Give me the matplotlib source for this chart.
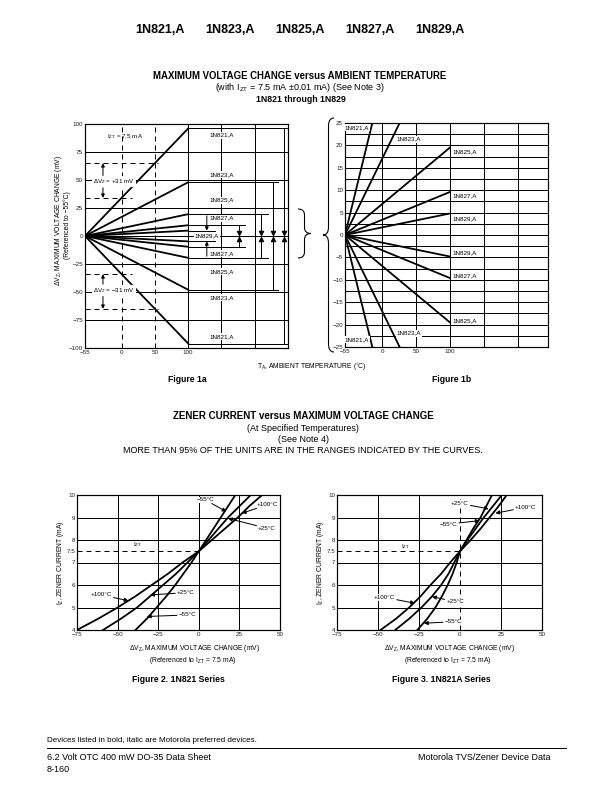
import matplotlib
matplotlib.use("Agg")
import matplotlib.pyplot as plt
from matplotlib.path import Path
from matplotlib.patches import PathPatch

plt.rcParams['font.family'] = ['Liberation Sans', 'DejaVu Sans']
plt.rcParams['mathtext.fontset'] = 'custom'
plt.rcParams['mathtext.rm'] = 'Liberation Sans'
plt.rcParams['mathtext.it'] = 'Liberation Sans'
plt.rcParams['mathtext.bf'] = 'Liberation Sans:bold'
plt.rcParams['axes.linewidth'] = 1.2

W, H = 612, 792

# === Figure 1: voltage change vs ambient temperature ===
devices = ['1N821,A', '1N823,A', '1N825,A', '1N827,A', '1N829,A']
dv_at_100 = [96, 48, 19.5, 9.6, 4.8]      # mV at +100 C, referenced to -55 C
temp_span = [-55, 100]
fig1_xticks = [-55, 0, 50, 100]
fig1a_yticks = [-100, -75, -50, -25, 0, 25, 50, 75, 100]
fig1b_yticks = [-25, -20, -15, -10, -5, 0, 5, 10, 15, 20, 25]

# right-hand markers of figure 1a: end of the level lines, x of the span bar
level_end = [250, 235, 220, 186, 140]
span_x = [244.5, 228, 210, 176]
label_y_1a = [90, 55, 32, 16]

# === Figures 2 and 3: zener current vs voltage change ===
iz = [4, 4.5, 5, 5.5, 6, 6.5, 7, 7.5, 8, 8.5, 9, 9.5, 10]
fig2_dv = {
    '+100': [-75, -62, -50, -39, -29, -19, -10, 0, 8, 16, 24, 31, 39],
    '+25': [-59, -48, -38, -30, -22, -14, -7, 0, 6, 12, 18, 25, 32],
    '-55': [-39, -32, -26, -20, -14.5, -9.5, -4.5, 0, 4.5, 9, 13.5, 18, 22.5],
}
fig3_dv = {
    '+100': [-48.5, -39, -31, -24, -18, -11.5, -6, 0, 6.5, 12.5, 18, 23.5, 28.5],
    '+25': [-39.5, -31, -23.5, -17, -11.5, -7, -3.5, 0, 4, 8, 12.5, 16, 19.5],
    '-55': [-26, -20, -15, -11, -7.5, -4.5, -2, 0, 4.5, 9.5, 14.5, 20, 25.5],
}
iz_ticks = [4, 5, 6, 7, 7.5, 8, 9, 10]
iz_ticklabels = ['4', '5', '6', '7', '7.5', '8', '9', '10']
dv_ticks = [-75, -50, -25, 0, 25, 50]

# (label, text xy, arrow tip xy)
fig2_notes = [
    ('\u221255\u00b0C', (4, 9.78), (17, 9.26)),
    ('+100\u00b0C', (42, 9.56), (26.5, 9.19)),
    ('+25\u00b0C', (42, 8.52), (18, 8.96)),
    ('+100\u00b0C', (-60, 5.56), (-43.3, 5.3)),
    ('+25\u00b0C', (-8, 5.66), (-30, 5.56)),
    ('\u221255\u00b0C', (-7, 4.67), (-32, 4.6)),
]
fig3_notes = [
    ('+25\u00b0C', (0, 9.63), (17.5, 9.38)),
    ('+100\u00b0C', (40, 9.45), (21.6, 9.19)),
    ('\u221255\u00b0C', (-7, 8.71), (12, 8.86)),
    ('+100\u00b0C', (-46, 5.45), (-27.5, 5.19)),
    ('+25\u00b0C', (-3, 5.26), (-17, 5.48)),
    ('\u221255\u00b0C', (-4, 4.37), (-22, 4.3)),
]

FS_IN = 6.3     # labels inside the plots
FS_TICK = 6.3
FS_AX = 6.8


def box(px_left, px_top, px_w, px_h):
    return [px_left / W, 1 - (px_top + px_h) / H, px_w / W, px_h / H]


def ftext(px, py, s, **kw):
    fig.text(px / W, 1 - py / H, s, **kw)


def brace(x_end, x_tip, y_top, y_bot, r):
    """Curly brace in page pixels, tip pointing towards x_tip."""
    xm = (x_end + x_tip) / 2
    ym = (y_top + y_bot) / 2
    pts = [(x_end, y_top), (xm, y_top), (xm, y_top + r), (xm, ym - r),
           (xm, ym), (x_tip, ym), (xm, ym), (xm, ym + r), (xm, y_bot - r),
           (xm, y_bot), (x_end, y_bot)]
    codes = [Path.MOVETO, Path.CURVE3, Path.CURVE3, Path.LINETO,
             Path.CURVE3, Path.CURVE3, Path.CURVE3, Path.CURVE3, Path.LINETO,
             Path.CURVE3, Path.CURVE3]
    pts = [(x / W, 1 - y / H) for x, y in pts]
    fig.patches.append(PathPatch(Path(pts, codes), transform=fig.transFigure,
                                 fill=False, lw=1.1, color='k'))


def style_ticks(ax):
    ax.tick_params(length=0, labelsize=FS_TICK, pad=2, colors='#222222')


def arrow(ax, tip, tail, ms=8):
    ax.annotate('', xy=tip, xytext=tail,
                arrowprops=dict(arrowstyle='-|>', lw=1, color='k',
                                mutation_scale=ms, shrinkA=0, shrinkB=0))


white = dict(boxstyle='square,pad=0.15', fc='white', ec='none')

fig = plt.figure(figsize=(W / 72, H / 72), dpi=72)

# header
for i, d in enumerate(devices):
    ftext(160 + 70 * i, 30, d, ha='center', va='center', fontsize=12.5,
          fontweight='bold')

ftext(300, 76, 'MAXIMUM VOLTAGE CHANGE versus AMBIENT TEMPERATURE',
      ha='center', va='center', fontsize=9.6, fontweight='bold')
ftext(300, 88, '(with I$_{\\rm ZT}$ = 7.5 mA \u00b10.01 mA) (See Note 3)',
      ha='center', va='center', fontsize=9)
ftext(301, 99, '1N821 through 1N829', ha='center', va='center', fontsize=8.8,
      fontweight='bold')

# --- Figure 1a ---
ax = fig.add_axes(box(85, 124, 203, 224))
ax.set_xlim(-55, 250)
ax.set_ylim(-100, 100)
for y in [-75, -50, -25, 0, 25, 50, 75]:
    ax.axhline(y, color='k', lw=1)
for x in [100, 150, 200]:
    ax.axvline(x, color='k', lw=1)
for x in [0, 50]:
    ax.axvline(x, color='k', lw=1, ls=(0, (5, 4)))
for v in dv_at_100:
    ax.plot(temp_span, [0, v], color='k', lw=1.8)
    ax.plot(temp_span, [0, -v], color='k', lw=1.8)

for i, v in enumerate(dv_at_100):
    for s in (1, -1):
        ax.plot([100, level_end[i]], [s * v, s * v], color='k', lw=1)
for xv, v in zip(span_x, dv_at_100):
    ax.plot([xv, xv], [-v, v], color='k', lw=1)
    ax.plot([xv], [2.6], marker='v', ms=4.5, color='k')
    ax.plot([xv], [-2.6], marker='^', ms=4.5, color='k')
# 1N829 arrows
arrow(ax, (128, 4.8), (128, 18), 7)
arrow(ax, (128, -4.8), (128, -18), 7)
for d, ly in zip(devices[:4], label_y_1a):
    for s in (1, -1):
        ax.text(151, s * ly, d, ha='center', va='center', fontsize=FS_IN,
                bbox=white, zorder=5)
ax.text(128, 0, devices[4], ha='center', va='center', fontsize=FS_IN,
        bbox=white, zorder=5)

# +/-31 mV window of the 1N821 between 0 and 50 C
v0 = dv_at_100[0] * 55 / 155
v50 = dv_at_100[0] * 105 / 155
for s in (1, -1):
    ax.plot([-55, 15], [s * v0, s * v0], color='k', lw=1, ls=(0, (5, 4)))
    ax.plot([-55, 55], [s * v50, s * v50], color='k', lw=1, ls=(0, (5, 4)))
    arrow(ax, (-28, s * v50), (-28, s * 54), 7)
    arrow(ax, (-28, s * v0), (-28, s * 43), 7)
ax.text(-43, 49, '\u0394V$_{\\rm Z}$ = +31 mV', ha='left', va='center',
        fontsize=FS_IN, bbox=white, zorder=5)
ax.text(-43, -49, '\u0394V$_{\\rm Z}$ = \u221231 mV', ha='left', va='center',
        fontsize=FS_IN, bbox=white, zorder=5)
ax.text(-22, 89, 'I$_{\\rm ZT}$ = 7.5 mA', ha='left', va='center',
        fontsize=FS_IN)

ax.set_xticks(fig1_xticks)
ax.set_yticks(fig1a_yticks)
style_ticks(ax)

ftext(59, 220, '\u0394V$_{\\rm Z}$, MAXIMUM VOLTAGE CHANGE (mV)', rotation=90,
      ha='center', va='center', fontsize=FS_AX)
ftext(67, 225, '(Referenced to \u221255\u00b0C)', rotation=90,
      ha='center', va='center', fontsize=FS_AX)

# --- Figure 1b ---
bx = fig.add_axes(box(345, 123, 203, 224))
bx.set_xlim(-55, 245)
bx.set_ylim(-25, 25)
for k in range(-9, 10):
    bx.axhline(2.5 * k, color='k', lw=1)
for x in [0, 50, 100, 150, 200]:
    bx.axvline(x, color='k', lw=1)
for v in dv_at_100:
    bx.plot(temp_span, [0, v], color='k', lw=1.8)
    bx.plot(temp_span, [0, -v], color='k', lw=1.8)
label_pos_1b = [(-38, 24.0, 'center'), (39.5, 21.4, 'center'),
                (104, 18.6, 'left'), (104, 8.7, 'left'), (104, 3.6, 'left')]
label_neg_1b = [(-38, -23.4, 'center'), (39.5, -21.9, 'center'),
                (104, -19.2, 'left'), (104, -9.2, 'left'), (104, -4.0, 'left')]
for d, p, n in zip(devices, label_pos_1b, label_neg_1b):
    for x, y, ha in (p, n):
        bx.text(x, y, d, ha=ha, va='center', fontsize=FS_IN, bbox=white,
                zorder=5, clip_on=False)
bx.set_xticks(fig1_xticks)
bx.set_yticks(fig1b_yticks)
style_ticks(bx)

brace(298, 311, 209, 258, 6)
brace(334, 323, 118, 352, 8)

ftext(312, 367, 'T$_{\\rm A}$, AMBIENT TEMPERATURE ($^{\\circ}$C)',
      ha='center', va='center', fontsize=FS_AX)
ftext(187, 380, 'Figure 1a', ha='center', va='center', fontsize=8.6,
      fontweight='bold')
ftext(452, 380, 'Figure 1b', ha='center', va='center', fontsize=8.6,
      fontweight='bold')

# --- Figure 2 / 3 titles ---
ftext(303, 416, 'ZENER CURRENT versus MAXIMUM VOLTAGE CHANGE',
      ha='center', va='center', fontsize=9.8, fontweight='bold')
ftext(303, 428, '(At Specified Temperatures)', ha='center', va='center',
      fontsize=9)
ftext(303, 439, '(See Note 4)', ha='center', va='center', fontsize=9)
ftext(303, 450, 'MORE THAN 95% OF THE UNITS ARE IN THE RANGES INDICATED BY '
      'THE CURVES.', ha='center', va='center', fontsize=9)


def zener_panel(rect, curves, notes, dashed_zero, izt_xy):
    a = fig.add_axes(rect)
    a.set_xlim(-75, 50)
    a.set_ylim(4, 10)
    for y in [5, 6, 7, 8, 9]:
        a.axhline(y, color='k', lw=1)
    for x in [-50, -25, 25]:
        a.axvline(x, color='k', lw=1)
    if dashed_zero:
        a.axvline(0, color='k', lw=1, ls=(0, (5, 4)))
    else:
        a.axvline(0, color='k', lw=1)
    a.plot([-75, 0], [7.5, 7.5], color='k', lw=1, ls=(0, (5, 4)))
    for key in ['+100', '+25', '-55']:
        a.plot(curves[key], iz, color='k', lw=1.8)
    for s, xy, tip in notes:
        a.annotate(s, xy=tip, xytext=xy, ha='center', va='center',
                   fontsize=FS_IN, zorder=6,
                   bbox=dict(boxstyle='square,pad=0.1', fc='white', ec='none'),
                   arrowprops=dict(arrowstyle='-|>', lw=1, color='k',
                                   mutation_scale=8, shrinkA=1, shrinkB=0))
    a.text(izt_xy[0], izt_xy[1], 'I$_{\\rm ZT}$', ha='center', va='center',
           fontsize=FS_IN)
    a.set_xticks(dv_ticks)
    a.set_yticks(iz_ticks)
    a.set_yticklabels(iz_ticklabels)
    style_ticks(a)
    return a


zener_panel(box(77, 495, 203, 135), fig2_dv, fig2_notes, False, (-38, 7.78))
zener_panel(box(337, 495, 205, 135), fig3_dv, fig3_notes, True, (-33, 7.73))

for cx, fx, label in [(195, 178, 'Figure 2. 1N821 Series'),
                      (450, 441, 'Figure 3. 1N821A Series')]:
    ftext(cx, 649, '\u0394V$_{\\rm Z}$, MAXIMUM VOLTAGE CHANGE (mV)',
          ha='center', va='center', fontsize=FS_AX)
    ftext(cx - 2, 660, '(Referenced to I$_{\\rm ZT}$ = 7.5 mA)',
          ha='center', va='center', fontsize=FS_AX)
    ftext(fx, 679, label, ha='center', va='center', fontsize=8.6,
          fontweight='bold')
for px in [60, 320]:
    ftext(px, 563, 'I$_{\\rm Z}$, ZENER CURRENT (mA)', rotation=90,
          ha='center', va='center', fontsize=FS_AX)

# footer
ftext(47, 740, 'Devices listed in bold, italic are Motorola preferred devices.',
      ha='left', va='center', fontsize=8)
fig.add_artist(plt.Line2D([47 / W, 566 / W], [1 - 748 / H, 1 - 748 / H],
                          color='k', lw=1))
ftext(47, 757, '6.2 Volt OTC 400 mW DO-35 Data Sheet', ha='left',
      va='center', fontsize=9)
ftext(47, 769, '8-160', ha='left', va='center', fontsize=9)
ftext(550, 757, 'Motorola TVS/Zener Device Data', ha='right', va='center',
      fontsize=9)

fig.savefig('out.png', dpi=72)
